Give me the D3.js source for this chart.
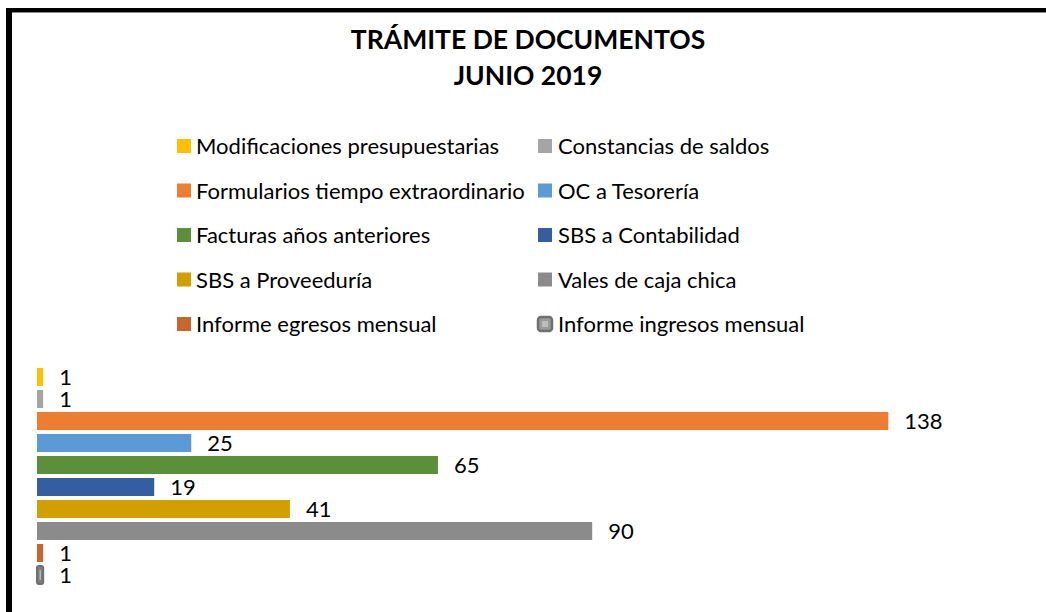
<!DOCTYPE html>
<html>
<head>
<meta charset="utf-8">
<script src="https://cdn.jsdelivr.net/npm/d3@7"></script>
<style>
  html, body { margin: 0; padding: 0; background: #fff; }
  svg { display: block; }
</style>
</head>
<body>
<svg id="chart" width="1046" height="612"></svg>
<script>
// Documentos tramitados, junio 2019
const categories = [
  "Modificaciones presupuestarias",
  "Constancias de saldos",
  "Formularios tiempo extraordinario",
  "OC a Tesorería",
  "Facturas años anteriores",
  "SBS a Contabilidad",
  "SBS a Proveeduría",
  "Vales de caja chica",
  "Informe egresos mensual",
  "Informe ingresos mensual"
];
const values = [1, 1, 138, 25, 65, 19, 41, 90, 1, 1];
const colors = [
  "#FFC000", "#A5A5A5", "#ED7D31", "#5B9BD5", "#5B8F3A",
  "#355EA0", "#D29F00", "#8B8B8B", "#C5662B", "#7E7E7E"
];
const titleLines = ["TRÁMITE DE DOCUMENTOS", "JUNIO 2019"];

const W = 1046, H = 612;
const svg = d3.select("#chart");
const FONT = "Lato, 'Liberation Sans', sans-serif";

svg.append("rect").attr("width", W).attr("height", H).attr("fill", "#fff");

// Frame (only left and top edges fall inside the view)
svg.append("rect").attr("x", 6).attr("y", 8).attr("width", W).attr("height", 4).attr("fill", "#000");
svg.append("rect").attr("x", 12).attr("y", 12).attr("width", W).attr("height", 1).attr("fill", "#8a8a8a");
svg.append("rect").attr("x", 6).attr("y", 8).attr("width", 6).attr("height", H).attr("fill", "#000");

// Title
svg.append("g").selectAll("text").data(titleLines).join("text")
  .attr("x", 528).attr("y", (d, i) => 49 + i * 36)
  .attr("text-anchor", "middle")
  .attr("font-family", FONT).attr("font-weight", 700).attr("font-size", 26.5)
  .attr("fill", "#000")
  .text(d => d);

// Legend: two columns, row-major order
const legCols = [177, 538];
const legRow = d3.scaleLinear().domain([0, 4]).range([146, 324]);
const leg = svg.append("g").selectAll("g").data(categories).join("g")
  .attr("transform", (d, i) => `translate(${legCols[i % 2]},${legRow(Math.floor(i / 2))})`);
leg.each(function(d, i) {
  const g = d3.select(this);
  if (i === categories.length - 1) {
    g.append("rect").attr("x", 0).attr("y", -7).attr("width", 14).attr("height", 14)
      .attr("rx", 3).attr("fill", "#9a9a9a").attr("stroke", "#6f6f6f").attr("stroke-width", 2.5);
    g.append("rect").attr("x", 4).attr("y", -3).attr("width", 6).attr("height", 6)
      .attr("fill", "#bdbdbd");
  } else {
    g.append("rect").attr("x", 0).attr("y", -7).attr("width", 14).attr("height", 14)
      .attr("fill", colors[i]);
  }
  g.append("text").attr("x", i % 2 === 0 ? 19 : 20).attr("y", 8)
    .attr("font-family", FONT).attr("font-size", 22).attr("fill", "#000")
    .text(d);
});

// Scales
const x = d3.scaleLinear().domain([0, 160]).range([37, 1024]);
const y = d3.scaleBand().domain(categories).range([366, 586])
  .paddingInner(0.18).paddingOuter(0.09);

const bars = svg.append("g");
bars.selectAll("rect.bar").data(categories).join("rect")
  .attr("class", "bar")
  .attr("x", x(0))
  .attr("y", d => y(d))
  .attr("width", (d, i) => x(values[i]) - x(0))
  .attr("height", y.bandwidth())
  .attr("fill", (d, i) => colors[i])
  .attr("rx", (d, i) => i === categories.length - 1 ? 2 : 0)
  .attr("stroke", (d, i) => i === categories.length - 1 ? "#6f6f6f" : "none")
  .attr("stroke-width", 2);

// inner highlight on the outlined bar
const lastCat = categories[categories.length - 1];
bars.append("rect")
  .attr("x", x(0) + 2.5).attr("y", y(lastCat) + 4)
  .attr("width", 1.5).attr("height", y.bandwidth() - 8)
  .attr("fill", "#b5b5b5");

// Value labels
svg.append("g").selectAll("text").data(categories).join("text")
  .attr("x", (d, i) => x(values[i]) + 16)
  .attr("y", d => y(d) + y.bandwidth() / 2 + 8)
  .attr("font-family", FONT).attr("font-size", 22).attr("fill", "#000")
  .text((d, i) => values[i]);
</script>
</body>
</html>
